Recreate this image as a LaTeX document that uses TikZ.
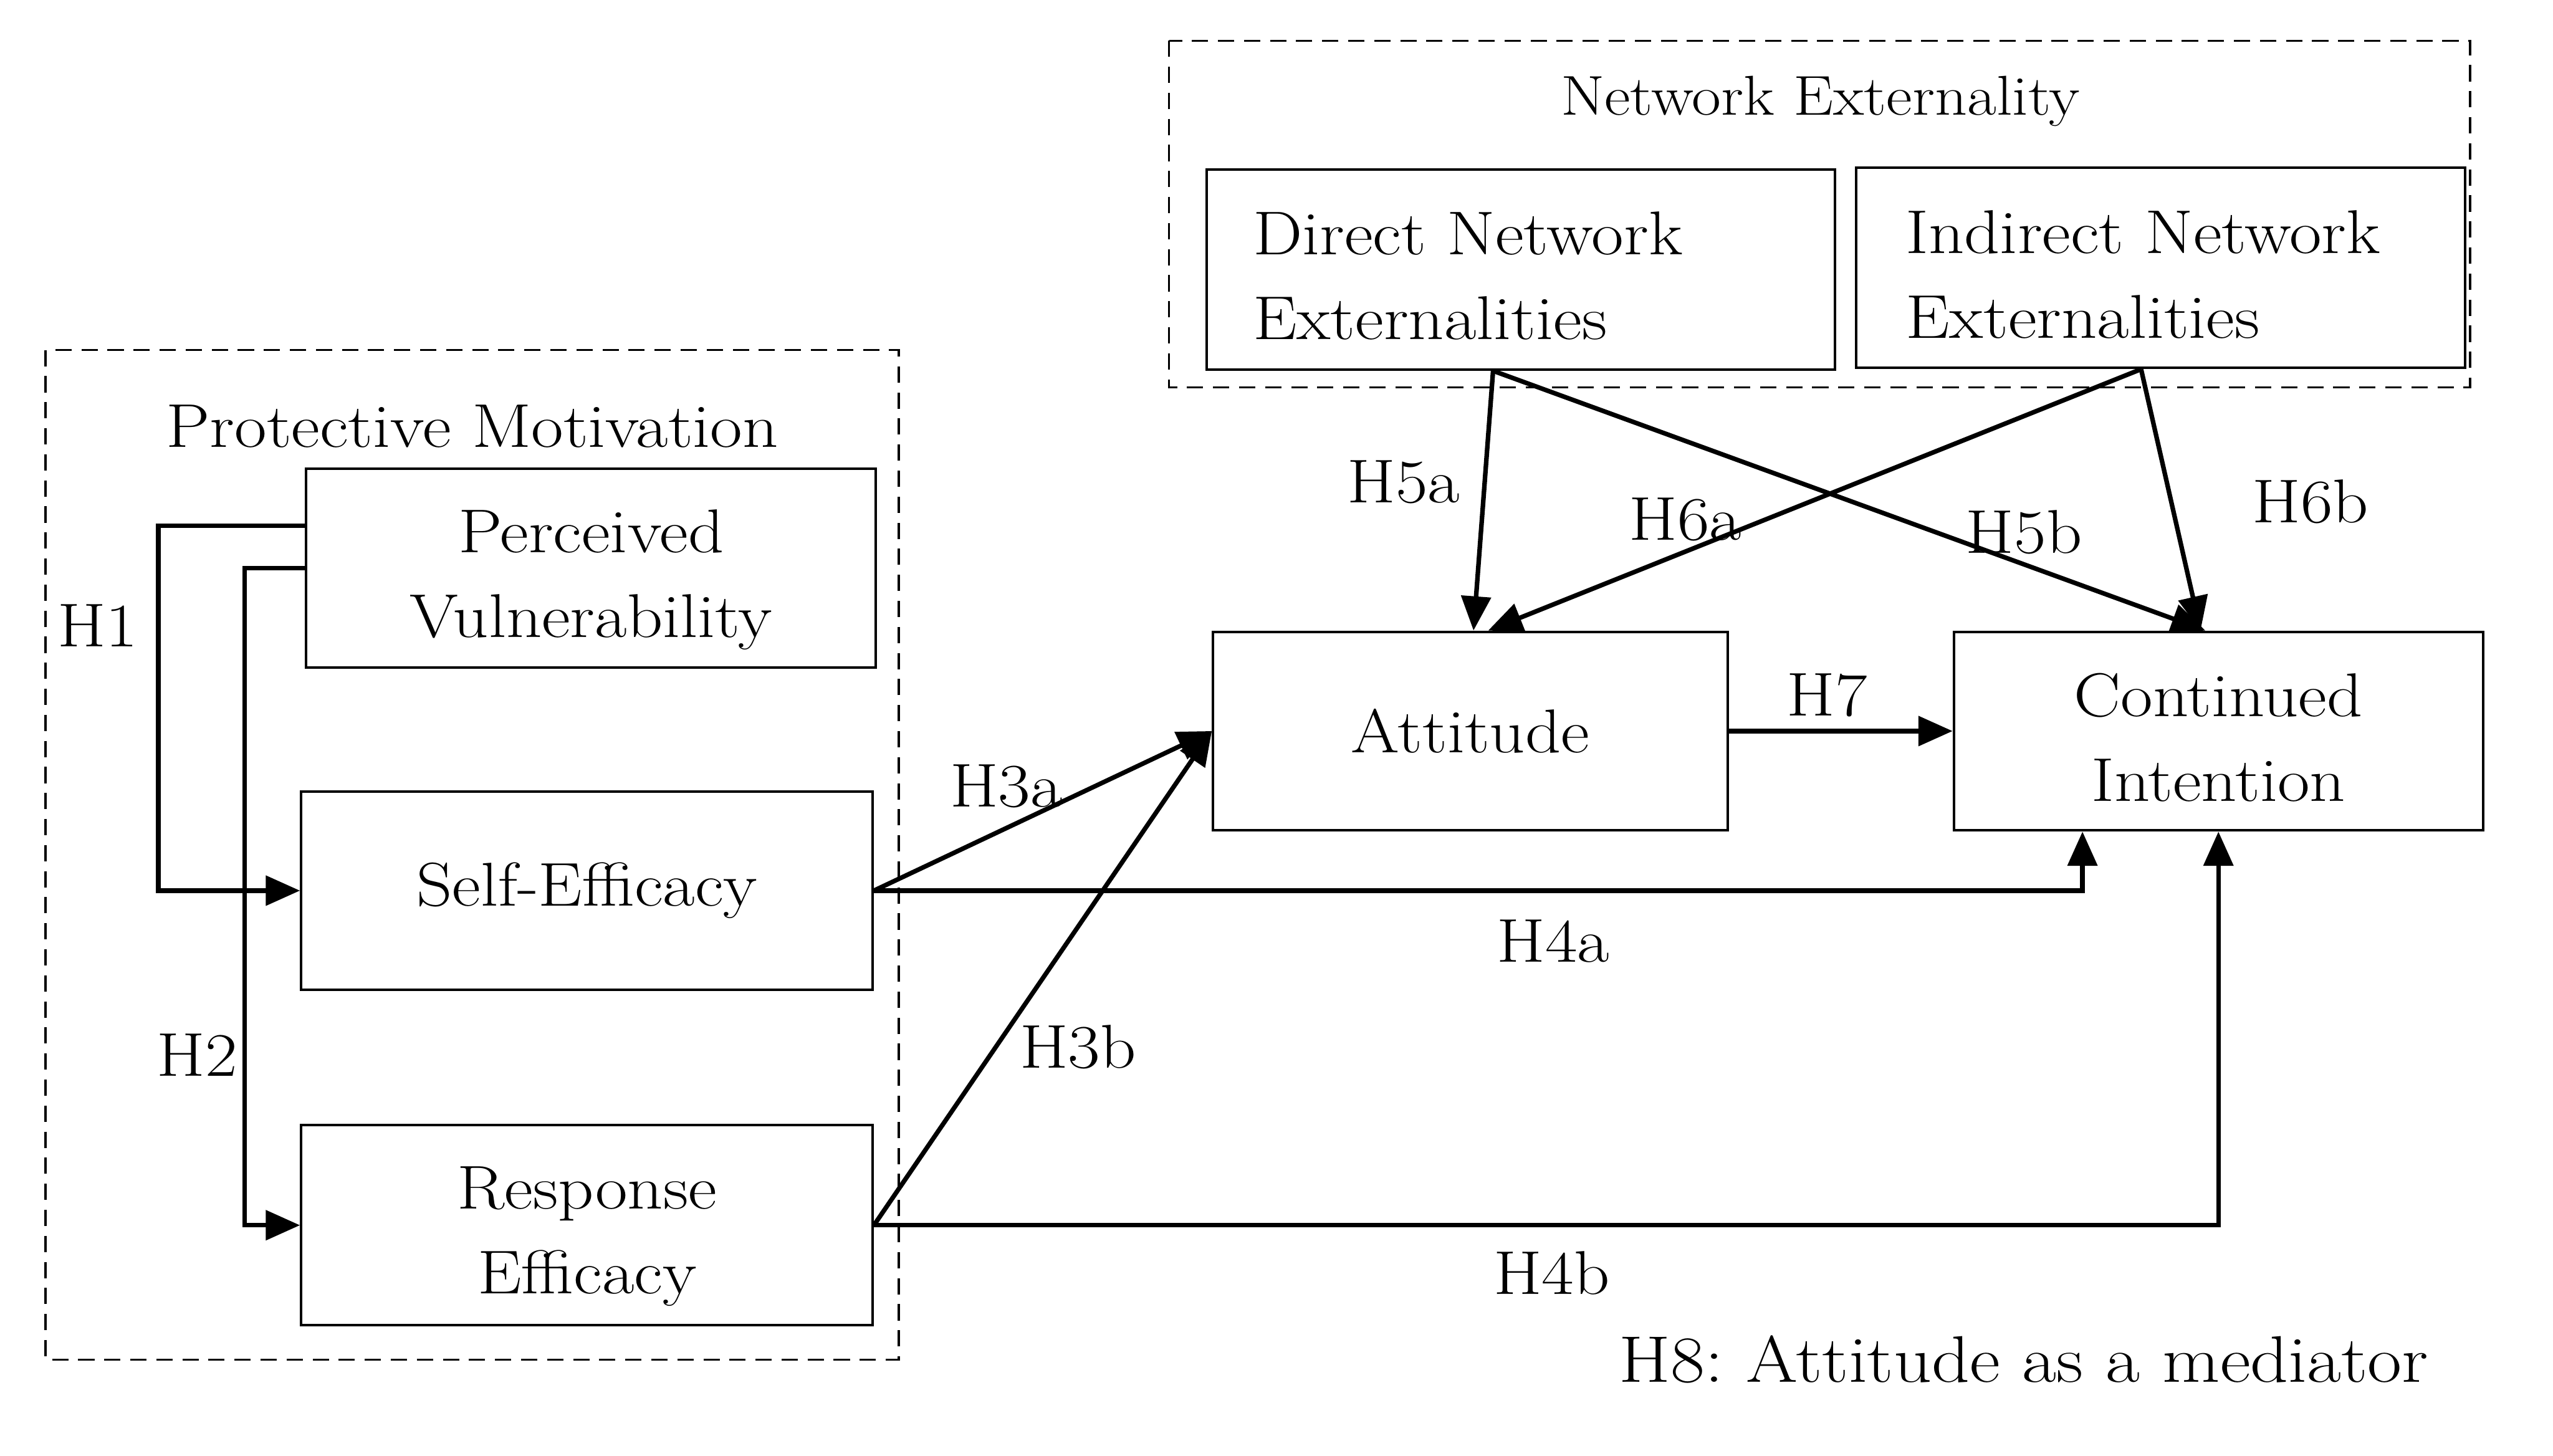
\documentclass[tikz,border=0pt]{standalone}
\usepackage{fontspec}
\setmainfont{Latin Modern Roman}[FakeStretch=1.13]
\usetikzlibrary{arrows.meta}
\frenchspacing
\newcommand\mainsz{\fontsize{38}{52}\selectfont}
\newcommand\bigsz{\fontsize{40.5}{52}\selectfont}
\newcommand\titsz{\fontsize{34.5}{52}\selectfont}
\begin{document}
\begin{tikzpicture}[x=1pt,y=-1pt,
  box/.style={draw, line width=1.5pt, inner sep=0pt},
  txt/.style={align=center, inner sep=0pt, font=\mainsz},
  ltxt/.style={align=left, inner sep=0pt, font=\mainsz, anchor=west},
  grp/.style={draw, dash pattern=on 10pt off 6pt, line width=1.3pt},
  conn/.style={line width=2.8pt, -{Triangle[length=21pt,width=18pt]}},
  lbl/.style={font=\mainsz, inner sep=0pt},
]
\fill[white] (0,0) rectangle (1568,894);
\useasboundingbox (0,0) rectangle (1568,894);

% group frames
\draw[grp] (28,215) rectangle (552,835);
\draw[grp] (718,25) rectangle (1517,238);
\node[lbl] (pmt) at (290,262) {Protective Motivation};
\node[font=\titsz, inner sep=0pt] (net) at (1118,62) {Network Externality};

% boxes
\node[box, minimum width=350pt, minimum height=122pt] (pv) at (363,349) {};
\node[box, minimum width=351pt, minimum height=122pt] (se) at (360.5,547) {};
\node[box, minimum width=351pt, minimum height=123pt] (re) at (360.5,752.5) {};
\node[box, minimum width=316pt, minimum height=122pt] (att) at (903,449) {};
\node[box, minimum width=325pt, minimum height=122pt] (ci) at (1362.5,449) {};
\node[box, minimum width=386pt, minimum height=123pt] (dne) at (934,165.5) {};
\node[box, minimum width=374pt, minimum height=123pt] (ine) at (1327,164.5) {};

% box texts
\node[txt] (pvt) at ([yshift=-7pt]pv.center) {Perceived\\Vulnerability};
\node[txt] (set) at (se.center) {Self-Efficacy};
\node[txt] (ret) at ([yshift=-7pt]re.center) {Response\\Efficacy};
\node[txt] (attt) at (att.center) {Attitude};
\node[txt] (cit) at ([yshift=-4pt]ci.center) {Continued\\Intention};
\node[ltxt] (dnet) at ([xshift=29pt,yshift=-4pt]dne.west) {Direct Network\\Externalities};
\node[ltxt] (inet) at ([xshift=31pt,yshift=-4pt]ine.west) {Indirect Network\\Externalities};

% connectors
\draw[conn] ([yshift=26pt]pv.west) -- ++(-90,0) |- (se.west);
\draw[conn] (pv.west) -- ++(-37,0) |- (re.west);
\draw[conn] (se.east) -- (att.west);
\draw[conn] (re.east) -- (att.west);
\draw[conn] (se.east) -| ([xshift=-83.5pt]ci.south);
\draw[conn] (re.east) -| (ci.south);
\draw[conn] (att.east) -- (ci.west);
\draw[conn] ([xshift=-17pt]dne.south) -- ([xshift=2pt]att.north);
\draw[conn] ([xshift=-17pt]dne.south) -- ([xshift=-8pt]ci.north);
\draw[conn] ([xshift=-12pt]ine.south) -- ([xshift=11pt]att.north);
\draw[conn] ([xshift=-12pt]ine.south) -- ([xshift=-11pt]ci.north);

% labels
\node[lbl] (h1) at (60,384) {H1};
\node[lbl] (h2) at (121,648) {H2};
\node[lbl] (h3a) at (618,483) {H3a};
\node[lbl] (h3b) at (662,643) {H3b};
\node[lbl] (h4a) at (954,578) {H4a};
\node[lbl] (h4b) at (953,782) {H4b};
\node[lbl] (h5a) at (862,296) {H5a};
\node[lbl] (h5b) at (1243,327) {H5b};
\node[lbl] (h6a) at (1035,319) {H6a};
\node[lbl] (h6b) at (1419,308) {H6b};
\node[lbl] (h7) at (1122,427) {H7};
\node[font=\bigsz, inner sep=0pt] (h8) at (1243,835) {H8: Attitude as a mediator};
\end{tikzpicture}
\end{document}
